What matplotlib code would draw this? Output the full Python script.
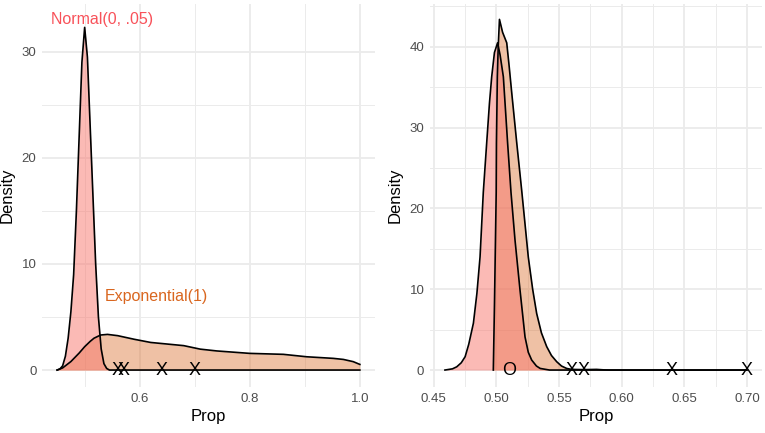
import matplotlib
matplotlib.use("Agg")
import matplotlib.pyplot as plt
from matplotlib.ticker import MultipleLocator

plt.rcParams["font.family"] = ["Liberation Sans", "DejaVu Sans"]

# left panel: prior densities
normal_x = [0.450, 0.455, 0.460, 0.465, 0.470, 0.475, 0.480, 0.485, 0.490, 0.495,
            0.500, 0.505, 0.510, 0.515, 0.520, 0.525, 0.530, 0.535, 0.540, 0.545, 1.000]
normal_y = [0.0, 0.1, 0.4, 1.3, 3.0, 5.5, 9.0, 15.0, 22.0, 29.0,
            32.3, 29.5, 23.0, 16.5, 10.0, 5.0, 2.0, 0.6, 0.15, 0.0, 0.0]

expo_x = [0.450, 0.460, 0.475, 0.490, 0.500, 0.510, 0.517, 0.529, 0.5415, 0.560,
          0.590, 0.620, 0.650, 0.680, 0.710, 0.740, 0.800, 0.861, 0.9035, 0.9517,
          0.970, 0.988, 1.000]
expo_y = [0.0, 0.2, 0.8, 1.6, 2.2, 2.7, 3.0, 3.3, 3.36, 3.24,
          2.9, 2.6, 2.45, 2.3, 1.97, 1.8, 1.57, 1.48, 1.25, 1.1,
          1.0, 0.79, 0.53]

# right panel: posterior densities
post_normal_x = [0.459, 0.465, 0.4684, 0.472, 0.4751, 0.478, 0.4817, 0.4845, 0.487, 0.4896,
                 0.4923, 0.4945, 0.4963, 0.4985, 0.501, 0.503, 0.5056, 0.509, 0.5117, 0.5149,
                 0.5189, 0.5229, 0.5255, 0.5282, 0.532, 0.535, 0.5424, 0.700]
post_normal_y = [0.0, 0.15, 0.4, 0.9, 1.65, 3.2, 5.8, 9.5, 14.0, 22.0,
                 28.1, 33.0, 36.3, 39.3, 40.5, 39.0, 36.3, 28.1, 22.0, 16.1,
                 9.9, 4.1, 2.2, 1.24, 0.5, 0.2, 0.0, 0.0]

post_expo_x = [0.4976, 0.4985, 0.4993, 0.4999, 0.5001, 0.5008, 0.5015, 0.5025, 0.5050, 0.5083,
               0.5103, 0.5123, 0.5163, 0.5202, 0.5255, 0.5290, 0.5322, 0.5360, 0.5402, 0.5440,
               0.5482, 0.5520, 0.5561, 0.560, 0.570, 0.580, 0.586, 0.590, 0.700]
post_expo_y = [0.0, 8.0, 16.0, 22.0, 28.1, 36.3, 40.0, 43.4, 41.8, 40.5,
               37.5, 34.3, 28.1, 22.3, 14.0, 10.0, 7.0, 4.6, 2.9, 1.8,
               1.03, 0.5, 0.2, 0.08, 0.05, 0.08, 0.02, 0.0, 0.0]

# observed proportions
x_marks = [0.56, 0.57, 0.64, 0.70]
o_marks = [0.51]

pink = "#F8766D"
orange = "#D9661F"
grid = "#EBEBEB"

fig = plt.figure(figsize=(7.65, 4.33), dpi=100)
ax1 = fig.add_axes([0.0549, 0.1062, 0.4353, 0.8845])
ax2 = fig.add_axes([0.562, 0.1062, 0.434, 0.8845])


def draw_density(ax, x, y, color, alpha):
    ax.fill_between(x, y, 0, color=color, alpha=alpha, linewidth=0)
    ax.plot(x, y, color="black", lw=1.2, solid_joinstyle="round")


def draw_marks(ax, xs, letter):
    for m in xs:
        ax.text(m, 0, letter, ha="center", va="center", fontsize=13)


def style(ax):
    for s in ax.spines.values():
        s.set_visible(False)
    ax.grid(which="major", color=grid, lw=1.3)
    ax.grid(which="minor", color=grid, lw=0.7)
    ax.set_axisbelow(True)
    ax.tick_params(which="both", length=0, labelsize=9.5, labelcolor="#4D4D4D", pad=4)
    ax.set_xlabel("Prop", fontsize=12, labelpad=3)
    ax.set_ylabel("Density", fontsize=12, labelpad=5)


draw_density(ax1, expo_x, expo_y, orange, 0.4)
draw_density(ax1, normal_x, normal_y, pink, 0.5)
draw_marks(ax1, x_marks, "X")
ax1.text(0.531, 33.0, "Normal(0, .05)", color="#F8525A", ha="center", va="center", fontsize=11.5)
ax1.text(0.631, 6.9, "Exponential(1)", color="#D9661F", ha="center", va="center", fontsize=11.5)
ax1.set_xlim(0.4225, 1.0275)
ax1.set_ylim(-1.6, 34.5)
ax1.xaxis.set_minor_locator(MultipleLocator(0.1))
ax1.yaxis.set_major_locator(MultipleLocator(10))
ax1.yaxis.set_minor_locator(MultipleLocator(5))
ax1.set_xticks([0.6, 0.8, 1.0])
ax1.set_xticklabels(["0.6", "0.8", "1.0"])
style(ax1)

draw_density(ax2, post_expo_x, post_expo_y, orange, 0.4)
draw_density(ax2, post_normal_x, post_normal_y, pink, 0.5)
draw_marks(ax2, x_marks, "X")
draw_marks(ax2, o_marks, "O")
ax2.set_xlim(0.447, 0.712)
ax2.set_ylim(-2.1, 45.3)
ax2.xaxis.set_major_locator(MultipleLocator(0.05))
ax2.xaxis.set_minor_locator(MultipleLocator(0.025))
ax2.yaxis.set_major_locator(MultipleLocator(10))
ax2.yaxis.set_minor_locator(MultipleLocator(5))
ax2.set_xticklabels([f"{v:.2f}" for v in ax2.get_xticks()])
style(ax2)

fig.savefig("out.png", dpi=100)
